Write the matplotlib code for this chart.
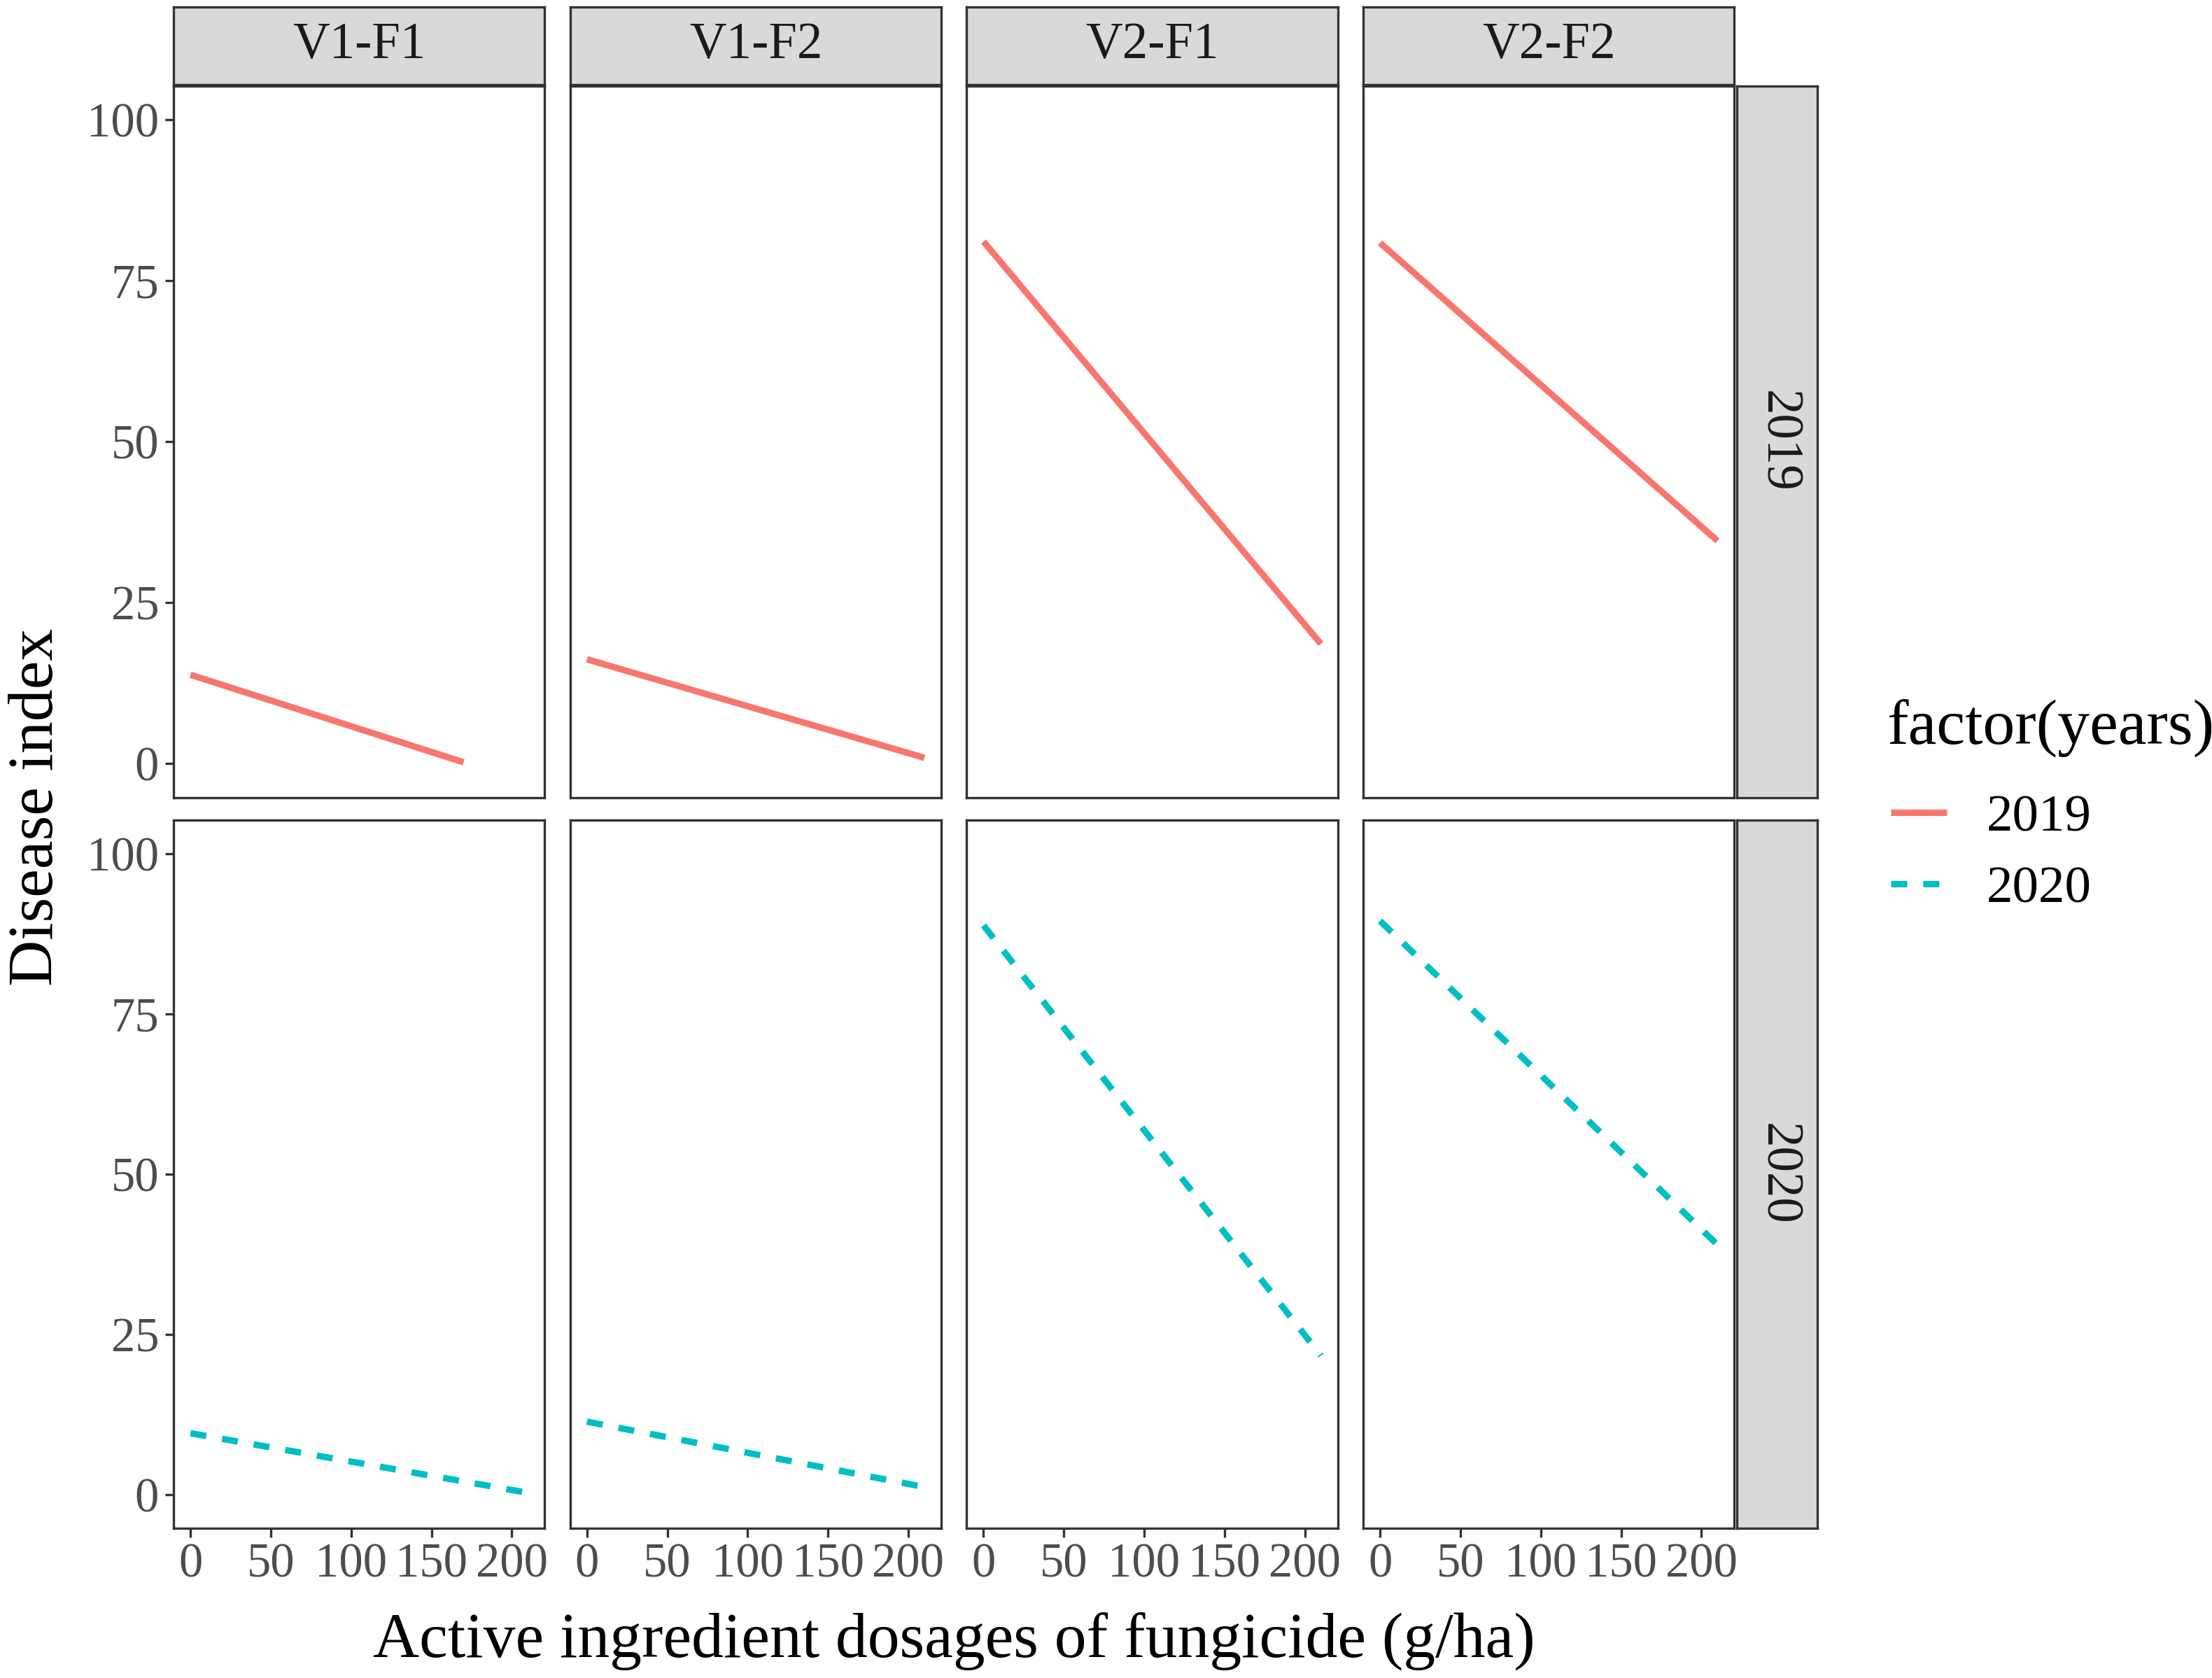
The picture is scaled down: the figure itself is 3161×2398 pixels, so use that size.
"""Faceted dose-response lines: disease index vs fungicide dosage, by treatment and year."""

import matplotlib
matplotlib.use("Agg")
import matplotlib.pyplot as plt
from matplotlib.lines import Line2D

plt.rcParams["font.family"] = ["Liberation Serif", "DejaVu Serif"]

# facet labels
treatments = ["V1-F1", "V1-F2", "V2-F1", "V2-F2"]
years = ["2019", "2020"]

# fitted line end points (dosage, disease index) per treatment
dose_2019 = [[0, 170], [0, 210], [0, 210], [0, 210]]
index_2019 = [[13.8, 0.2], [16.2, 0.9], [81.1, 18.6], [80.9, 34.6]]
dose_2020 = [[0, 210], [0, 210], [0, 210], [0, 210]]
index_2020 = [[9.6, 0.3], [11.4, 1.2], [88.8, 21.7], [89.5, 39.0]]

x_ticks = [0, 50, 100, 150, 200]
y_ticks = [0, 25, 50, 75, 100]

colors = {"2019": "#F8766D", "2020": "#00BFC4"}
styles = {"2019": "-", "2020": (0, (2.5, 2.5))}
series = {"2019": (dose_2019, index_2019), "2020": (dose_2020, index_2020)}
LW = 2.2

W, H = 3162, 2398
fig = plt.figure(figsize=(W / 300, H / 300), dpi=300)

sx, sy = 1568, 1189  # layout measured on the shrunk reference
col_left = [123, 404, 685, 966]
col_w = 263
row_top = [61, 581]
row_h = [504, 502]
edge = "#333333"

def fx(px):
    return px / sx

def fy(py):
    return 1 - py / sy

for r, yr in enumerate(years):
    for c, trt in enumerate(treatments):
        ax = fig.add_axes([fx(col_left[c]), fy(row_top[r] + row_h[r]),
                           col_w / sx, row_h[r] / sy])
        xs, ys = series[yr]
        ax.plot(xs[c], ys[c], color=colors[yr], linestyle=styles[yr],
                linewidth=LW, solid_capstyle="butt", dash_capstyle="butt")
        ax.set_xlim(-10.5, 220.5)
        ax.set_ylim(-5.25, 105.25)
        ax.set_xticks(x_ticks)
        ax.set_yticks(y_ticks)
        for sp in ax.spines.values():
            sp.set_color(edge)
            sp.set_linewidth(0.8)
        ax.tick_params(length=3, width=0.8, color=edge, labelsize=16.5,
                       labelcolor="#4D4D4D", pad=2)
        if c != 0:
            ax.tick_params(axis="y", left=False, labelleft=False)
        if r != len(years) - 1:
            ax.tick_params(axis="x", bottom=False, labelbottom=False)

        # column strip on top
        if r == 0:
            sa = fig.add_axes([fx(col_left[c]), fy(60), col_w / sx, 55 / sy])
            sa.set_facecolor("#D9D9D9")
            sa.set_xticks([])
            sa.set_yticks([])
            for sp in sa.spines.values():
                sp.set_color(edge)
                sp.set_linewidth(0.8)
            sa.text(0.5, 0.5, trt, ha="center", va="center", fontsize=17.5,
                    color="#1A1A1A", transform=sa.transAxes)

    # row strip on the right
    ra = fig.add_axes([fx(1231), fy(row_top[r] + row_h[r]), 57 / sx, row_h[r] / sy])
    ra.set_facecolor("#D9D9D9")
    ra.set_xticks([])
    ra.set_yticks([])
    for sp in ra.spines.values():
        sp.set_color(edge)
        sp.set_linewidth(0.8)
    ra.text(0.5, 0.5, yr, ha="center", va="center", fontsize=17.5, rotation=-90,
            color="#1A1A1A", transform=ra.transAxes)

fig.text(fx(676), fy(1163), "Active ingredient dosages of fungicide (g/ha)",
         ha="center", va="center", fontsize=22)
fig.text(fx(26), fy(572), "Disease index", ha="center", va="center",
         rotation=90, fontsize=22)

# legend: title placed separately for tighter control of spacing
fig.text(fx(1337), fy(516), "factor(years)", ha="left", va="center", fontsize=22)
handles = [Line2D([], [], color=colors[y], linestyle=styles[y], linewidth=LW,
                  solid_capstyle="butt", dash_capstyle="butt")
           for y in years]
fig.legend(handles, years, loc="center left",
           bbox_to_anchor=(fx(1340), fy(605)), frameon=False, borderpad=0,
           borderaxespad=0, fontsize=18, handlelength=1.07,
           handletextpad=0.75, labelspacing=0.45)

fig.savefig("out.png", dpi=300, facecolor="white")
